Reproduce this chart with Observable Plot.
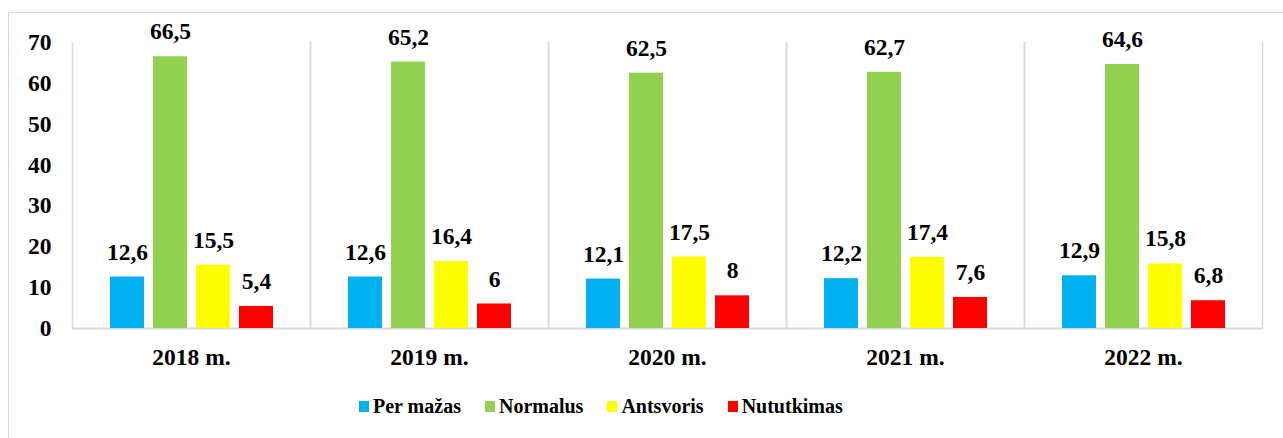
<!DOCTYPE html>
<html>
<head>
<meta charset="utf-8">
<script src="https://cdn.jsdelivr.net/npm/d3@7"></script>
<script src="https://cdn.jsdelivr.net/npm/@observablehq/plot@0.6"></script>
<style>
  body { margin: 0; background: #fff; font-family: "Liberation Serif", "Times New Roman", serif; font-weight: bold; }
  #wrap { position: relative; width: 1283px; height: 438px; overflow: hidden; }
  #border { position: absolute; left: 8px; top: 12px; width: 1290px; height: 440px; border-left: 1px solid #d9d9d9; border-top: 1px solid #d9d9d9; pointer-events: none; }
  #legend { display: flex; align-items: center; height: 63px; padding-left: 359px; font-size: 20px; color: #000; }
  .item { display: flex; align-items: center; margin-right: 24px; }
  .sw { width: 10px; height: 11px; margin-right: 4px; }
</style>
</head>
<body>
<div id="wrap">
  <div id="border"></div>
  <div id="chart"></div>
  <div id="legend"></div>
</div>
<script>
const years = ["2018 m.", "2019 m.", "2020 m.", "2021 m.", "2022 m."];
const categories = ["Per mažas", "Normalus", "Antsvoris", "Nututkimas"];
const colors = ["#00B0F0", "#92D050", "#FFFF00", "#FF0000"];
const perMazas   = [12.6, 12.6, 12.1, 12.2, 12.9];
const normalus   = [66.5, 65.2, 62.5, 62.7, 64.6];
const antsvoris  = [15.5, 16.4, 17.5, 17.4, 15.8];
const nututkimas = [5.4, 6, 8, 7.6, 6.8];
const yTicks = [0, 10, 20, 30, 40, 50, 60, 70];

const series = [perMazas, normalus, antsvoris, nututkimas];
const data = [];
years.forEach((yr, i) => {
  categories.forEach((c, j) => data.push({year: yr, cat: c, value: series[j][i]}));
});
const fmt = v => String(v).replace(".", ",");

const chart = Plot.plot({
  width: 1283,
  height: 375,
  marginLeft: 70,
  marginRight: 20,
  marginTop: 42,
  marginBottom: 47,
  style: {fontFamily: "'Liberation Serif', 'Times New Roman', serif", fontWeight: "bold", fontSize: "23.5px", color: "#000", background: "transparent"},
  fx: {domain: years, padding: 0, label: null, axis: "bottom", tickSize: 0, tickPadding: 20},
  x: {domain: categories, paddingInner: 0.215, paddingOuter: 0.86, axis: null},
  y: {domain: [0, 70], ticks: yTicks, tickSize: 0, tickPadding: 21, label: null},
  color: {domain: categories, range: colors},
  marks: [
    Plot.frame({anchor: "left", stroke: "#d9d9d9", strokeWidth: 1.5}),
    Plot.frame({anchor: "right", stroke: "#d9d9d9", strokeWidth: 1.5}),
    Plot.ruleY([0], {stroke: "#d9d9d9", strokeWidth: 2}),
    Plot.barY(data, {fx: "year", x: "cat", y: "value", fill: "cat"}),
    Plot.text(data, {fx: "year", x: "cat", y: "value", text: d => fmt(d.value), dy: -25, fontSize: 23.5, fontWeight: "bold", fill: "#000"})
  ]
});
document.getElementById("chart").appendChild(chart);

const legend = document.getElementById("legend");
categories.forEach((c, j) => {
  const it = document.createElement("div");
  it.className = "item";
  const sw = document.createElement("div");
  sw.className = "sw";
  sw.style.background = colors[j];
  const t = document.createElement("span");
  t.textContent = c;
  it.appendChild(sw); it.appendChild(t);
  legend.appendChild(it);
});
</script>
</body>
</html>
